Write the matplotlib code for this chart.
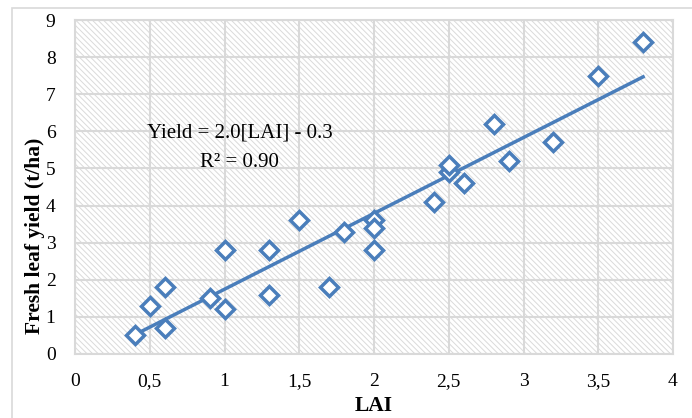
import numpy as np
import matplotlib.pyplot as plt
from matplotlib.patches import Rectangle

plt.rcParams['font.family'] = ['Liberation Serif', 'DejaVu Serif']
plt.rcParams['hatch.linewidth'] = 0.7

lai = [0.4, 0.5, 0.6, 0.6, 0.9, 1.0, 1.0, 1.3, 1.3, 1.5, 1.7, 1.8,
       2.0, 2.0, 2.0, 2.4, 2.5, 2.5, 2.6, 2.8, 2.9, 3.2, 3.5, 3.8]
yld = [0.5, 1.3, 1.8, 0.7, 1.5, 2.8, 1.2, 2.8, 1.6, 3.6, 1.8, 3.3,
       3.6, 3.4, 2.8, 4.1, 4.9, 5.1, 4.6, 6.2, 5.2, 5.7, 7.5, 8.4]
xticks = [0, 0.5, 1, 1.5, 2, 2.5, 3, 3.5, 4]
xticklabels = ['0', '0,5', '1', '1,5', '2', '2,5', '3', '3,5', '4']

blue = '#4A7EBB'
grid = '#d9d9d9'

fig = plt.figure(figsize=(6.92, 4.18), dpi=100)
fig.patches.append(Rectangle((12/692, -0.01), 1, 1 - 8/418 + 0.01, transform=fig.transFigure,
                             fill=False, edgecolor=grid, lw=1.2))
ax = fig.add_axes([75/692, 1 - 354/418, 598/692, 334/418])

# hatched plot background
ax.add_patch(Rectangle((0, 0), 4, 9, facecolor='white', edgecolor='#dadada', lw=0,
                       hatch='\\\\\\\\\\\\', zorder=0))

slope, icpt = np.polyfit(lai, yld, 1)
xs = np.array([min(lai), max(lai)])
ax.plot(xs, slope * xs + icpt, color=blue, lw=2.5, zorder=3)
ax.plot(lai, yld, 'D', ms=9, mfc='white', mec=blue, mew=2.5, zorder=4)

ax.text(1.1, 5.95, 'Yield = 2.0[LAI] - 0.3', ha='center', va='center', fontsize=15, zorder=5)
ax.text(1.1, 5.15, 'R² = 0.90', ha='center', va='center', fontsize=15, zorder=5)

ax.set_xlim(0, 4)
ax.set_ylim(0, 9)
ax.set_xticks(xticks)
ax.set_xticklabels(xticklabels)
ax.set_yticks(range(0, 10))
ax.tick_params(length=0, labelsize=14)
ax.tick_params(axis='x', pad=14)
ax.tick_params(axis='y', pad=14)
ax.grid(True, color=grid, lw=1.5, zorder=1)
ax.set_axisbelow(True)
for s in ax.spines.values():
    s.set_color(grid)
    s.set_linewidth(1.5)

ax.set_xlabel('LAI', fontsize=15.5, fontweight='bold', labelpad=4)
ax.set_ylabel('Fresh leaf yield (t/ha)', fontsize=15.5, fontweight='bold')
ax.yaxis.set_label_coords(-0.05, 0.353)

fig.savefig('out.png', dpi=100)
